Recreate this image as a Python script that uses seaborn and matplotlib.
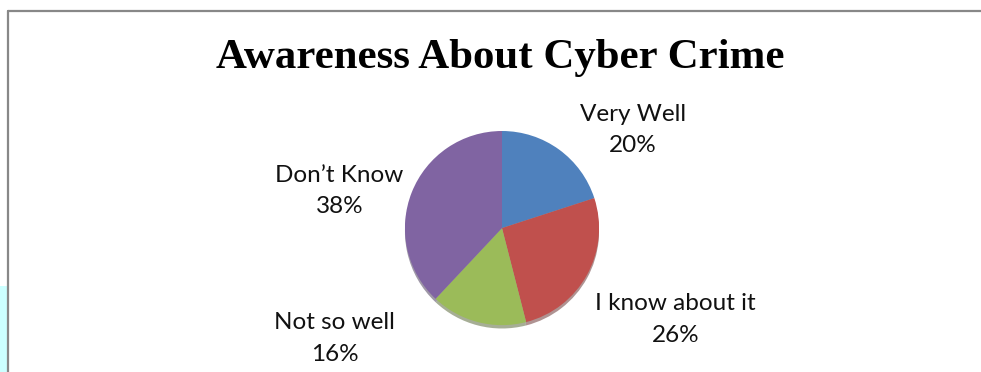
import matplotlib
matplotlib.use("Agg")
import matplotlib.pyplot as plt
import seaborn as sns
from matplotlib.lines import Line2D
from matplotlib.patches import Rectangle

categories = ["Very Well", "I know about it", "Not so well", "Don\u2019t Know"]
values = [20, 26, 16, 38]
colors = ["#4F81BD", "#C0504D", "#9BBB59", "#8064A2"]
title = "Awareness About Cyber Crime"

sns.set_theme(style="white")
plt.rcParams['font.family'] = ['Lato', 'DejaVu Sans']

W, H = 981, 372
fig = plt.figure(figsize=(W / 100, H / 100), dpi=100)
fig.patch.set_facecolor("white")

def fx(x):
    return x / W

def fy(y):
    return 1 - y / H

# frame lines and cyan strip
fig.add_artist(Line2D([fx(8), fx(981)], [fy(11), fy(11)], color="#888888", lw=1.6))
fig.add_artist(Line2D([fx(8), fx(8)], [fy(11), fy(372)], color="#888888", lw=1.6))
fig.add_artist(Rectangle((0, 0), fx(6.5), fy(286), transform=fig.transFigure,
                         facecolor="#CCFFFF", edgecolor="none"))

cx, cy, r = 502, 230, 99
ax = fig.add_axes([fx(cx - r), fy(cy + r), 2 * r / W, 2 * r / H])
wedges, _ = ax.pie(values, colors=colors, startangle=90, counterclock=False,
                   radius=1.0, shadow={'ox': 0.0, 'oy': -0.025, 'shade': 0.5},
                   wedgeprops=dict(edgecolor="none", linewidth=0))
ax.set_xlim(-1.02, 1.02)
ax.set_ylim(-1.04, 1.0)
ax.set_aspect("auto")
ax.axis("off")

fig.text(fx(500.5), fy(58), title, ha="center", va="center",
         family=["Liberation Serif"], fontweight="bold", fontsize=30.9, color="black")

# (x centre, baseline of first line, baseline of second line)
label_pos = [(633, 121, 152), (675.5, 310, 342), (334.5, 329, 361), (339.5, 182, 213)]
for name, v, (x, y1, y2) in zip(categories, values, label_pos):
    fig.text(fx(x), fy(y1), name, ha="center", va="baseline",
             fontsize=17.5, color="#111111")
    fig.text(fx(x), fy(y2), f"{v}%", ha="center", va="baseline",
             fontsize=17.5, color="#111111")

fig.savefig("out.png", dpi=100, facecolor="white")
